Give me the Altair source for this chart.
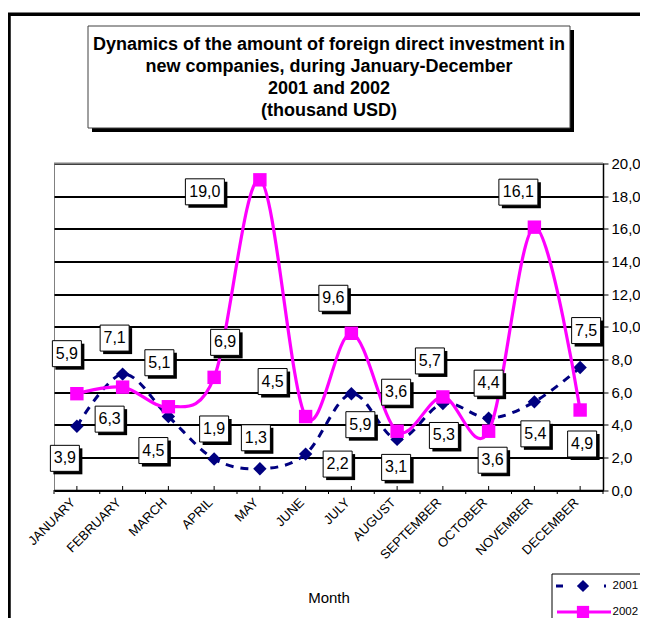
import altair as alt
import pandas as pd

# ---------------- data ----------------
months = ["JANUARY", "FEBRUARY", "MARCH", "APRIL", "MAY", "JUNE", "JULY",
          "AUGUST", "SEPTEMBER", "OCTOBER", "NOVEMBER", "DECEMBER"]
series_names = ["2001", "2002"]
values_2001 = [3.9, 7.1, 4.5, 1.9, 1.3, 2.2, 5.9, 3.1, 5.3, 4.4, 5.4, 7.5]
values_2002 = [5.9, 6.3, 5.1, 6.9, 19.0, 4.5, 9.6, 3.6, 5.7, 3.6, 16.1, 4.9]
y_ticks = [0, 2, 4, 6, 8, 10, 12, 14, 16, 18, 20]
title_lines = ["Dynamics of the amount of foreign direct investment in",
               "new companies, during January-December",
               "2001 and 2002",
               "(thousand USD)"]
x_title = "Month"

# label box offsets from their point, in pixels (style, not data)
label_dx_2001 = [-12, -8, -15, 0, -4, 32, 9, -1, 1, 0, 1, 6]
label_dy_2001 = [32, -36, 34, -30, -31, 10, 31, 28, 32, -35, 32, -37]
label_dx_2002 = [-10, -13, -9, 11, -55, -33, -18, -1, -13, 4, -16, 2]
label_dy_2002 = [-40, 32, -44, -35, 12, -35, -35, -39, -36, 29, -35, 34]

# ---------------- layout ----------------
W, H = 549, 326.5
XDOM = [0.5, 12.5]
YDOM = [0, 20]
PX_X = W / (XDOM[1] - XDOM[0])
PX_Y = H / (YDOM[1] - YDOM[0])
NAVY = "#000080"
PINK = "#FF00FF"
FONT = "Liberation Sans"

rows = []
for sname, vals, dxs, dys in [(series_names[0], values_2001, label_dx_2001, label_dy_2001),
                              (series_names[1], values_2002, label_dx_2002, label_dy_2002)]:
    for i, v in enumerate(vals):
        m = i + 1
        rows.append({
            "m": m, "month": months[i], "series": sname, "value": v,
            "label": f"{v:.1f}".replace(".", ","),
            "lx": m + dxs[i] / PX_X, "ly": v - dys[i] / PX_Y,
        })
df = pd.DataFrame(rows)

xscale = alt.Scale(domain=XDOM, nice=False, zero=False)
yscale = alt.Scale(domain=YDOM, nice=False, zero=False)

month_expr = "[" + ",".join(f"'{m}'" for m in months) + "][datum.value - 1]"

x_axis = alt.Axis(values=list(range(1, 13)), labelExpr=month_expr, ticks=False,
                  tickCount=24,
                  grid=False, domainColor="black", domainWidth=1.5,
                  labelAngle=-45, labelAlign="right", labelBaseline="middle",
                  labelPadding=10, labelOffset=-4, labelFontSize=13,
                  labelColor="black", labelOverlap=False, labelFlush=False,
                  labelBound=False,
                  title=x_title, titleFontSize=15, titleFontWeight="normal",
                  titleColor="black", titleY=107, titleBaseline="middle")
y_axis = alt.Axis(orient="right", values=y_ticks, tickCount=22,
                  labelExpr="replace(format(datum.value, '.1f'), '.', ',')",
                  tickSize=5, tickColor="black", tickWidth=1,
                  domainColor="black", domainWidth=1.5,
                  grid=True, gridWidth=1.8, gridColor="black",
                  labelFontSize=15, labelPadding=3, labelColor="black",
                  labelFlush=False, labelOverlap=False, title=None)

base = alt.Chart(df)

d2001 = base.transform_filter(alt.datum.series == series_names[0])
d2002 = base.transform_filter(alt.datum.series == series_names[1])

X = lambda f: alt.X(f, scale=xscale)
Y = lambda f: alt.Y(f, scale=yscale)

line2001 = d2001.mark_line(interpolate="cardinal", tension=0, color=NAVY,
                           strokeWidth=3, strokeDash=[8, 7]).encode(
    x=alt.X("m:Q", scale=xscale, axis=x_axis),
    y=alt.Y("value:Q", scale=yscale, axis=y_axis),
)
pts2001 = d2001.mark_point(shape="diamond", filled=True, color=NAVY, size=180,
                           opacity=1).encode(x=X("m:Q"), y=Y("value:Q"))
line2002 = d2002.mark_line(interpolate="cardinal", tension=0, color=PINK,
                           strokeWidth=3.2).encode(x=X("m:Q"), y=Y("value:Q"))
pts2002 = d2002.mark_point(shape="square", filled=True, color=PINK, size=180,
                           opacity=1).encode(x=X("m:Q"), y=Y("value:Q"))

# label boxes: custom path symbols, size 4 -> 1 path unit == 1 px
def box_layers(nchar, half_w):
    sel = base.transform_filter(f"length(datum.label) == {nchar}")
    shadow = sel.mark_point(
        shape=f"M{-half_w + 3},-10H{half_w + 3}V16H{-half_w + 3}Z",
        size=4, filled=True, color="black", opacity=1).encode(x=X("lx:Q"), y=Y("ly:Q"))
    box = sel.mark_point(
        shape=f"M{-half_w},-13H{half_w}V13H{-half_w}Z",
        size=4, filled=True, fill="white", stroke="black", strokeWidth=1,
        opacity=1).encode(x=X("lx:Q"), y=Y("ly:Q"))
    return shadow, box

sh3, bx3 = box_layers(3, 14.5)
sh4, bx4 = box_layers(4, 19.5)

label_text = base.mark_text(fontSize=16, align="center", baseline="middle",
                            color="black").encode(
    x=X("lx:Q"), y=Y("ly:Q"), text="label:N")

# x-axis tick marks (category boundaries outward, centers inward)
bounds = pd.DataFrame({"b": [i + 0.5 for i in range(13)]})
centers = pd.DataFrame({"c": list(range(1, 13))})
ticks_out = alt.Chart(bounds).mark_rule(color="black", strokeWidth=1).encode(
    x=X("b:Q"), y=alt.value(H), y2=alt.value(H + 4))
ticks_in = alt.Chart(centers).mark_rule(color="black", strokeWidth=1).encode(
    x=X("c:Q"), y=alt.value(H - 4), y2=alt.value(H))

one = pd.DataFrame({"k": [0]})
# top plot border in gray (over the top gridline)
top_border = alt.Chart(one).mark_rule(color="#808080", strokeWidth=2).encode(
    x=alt.value(0), x2=alt.value(W), y=alt.value(0))

# outer frame
frame = alt.Chart(one).mark_rect(fill="white", fillOpacity=0, stroke="black",
                                 strokeWidth=3.5).encode(
    x=alt.value(-45), x2=alt.value(800), y=alt.value(-149.2), y2=alt.value(800))

# title box
tshadow = alt.Chart(one).mark_rect(color="black").encode(
    x=alt.value(38), x2=alt.value(520), y=alt.value(-133.5), y2=alt.value(-31.5))
tbox = alt.Chart(one).mark_rect(fill="white", stroke="#404040", strokeWidth=1).encode(
    x=alt.value(34), x2=alt.value(516), y=alt.value(-137.5), y2=alt.value(-35.5))
title_y = [-118.5, -96.5, -74.5, -52.5]
title_layers = [
    alt.Chart(one).mark_text(text=t, fontSize=18, fontWeight="bold", align="center",
                             baseline="middle", color="black").encode(
        x=alt.value(275), y=alt.value(yy))
    for t, yy in zip(title_lines, title_y)
]

# legend (manual)
lbox = alt.Chart(one).mark_rect(fill="white", stroke="black", strokeWidth=1).encode(
    x=alt.value(498), x2=alt.value(800), y=alt.value(410.5), y2=alt.value(800))
leg1_line = alt.Chart(one).mark_rule(color=NAVY, strokeWidth=3, strokeDash=[7, 17]).encode(
    x=alt.value(502), x2=alt.value(552), y=alt.value(422.5))
leg1_pt = alt.Chart(one).mark_point(shape="diamond", filled=True, color=NAVY, size=150,
                                    opacity=1).encode(x=alt.value(529), y=alt.value(422.5))
leg2_line = alt.Chart(one).mark_rule(color=PINK, strokeWidth=3).encode(
    x=alt.value(503), x2=alt.value(557), y=alt.value(448.5))
leg2_pt = alt.Chart(one).mark_point(shape="square", filled=True, color=PINK, size=150,
                                    opacity=1).encode(x=alt.value(529), y=alt.value(448.5))
leg_y = [422.5, 448.5]
leg_texts = [
    alt.Chart(one).mark_text(text=s, fontSize=11.5, align="left", baseline="middle",
                             color="black").encode(x=alt.value(558.5), y=alt.value(yy))
    for s, yy in zip(series_names, leg_y)
]

chart = alt.layer(
    line2001, top_border, frame, tshadow, tbox, *title_layers,
    pts2001, line2002, pts2002,
    sh3, sh4, bx3, bx4, label_text,
    ticks_out, ticks_in,
    lbox, leg1_line, leg1_pt, leg2_line, leg2_pt, *leg_texts,
).properties(
    width=W, height=H,
    padding={"left": 46, "top": 155.5, "right": 37, "bottom": 128},
    autosize=alt.AutoSizeParams(type="none"),
    background="white",
).configure(font=FONT).configure_view(stroke="#808080", strokeWidth=1)

chart.save("out.html", embed_options={"renderer": "svg", "actions": False})
